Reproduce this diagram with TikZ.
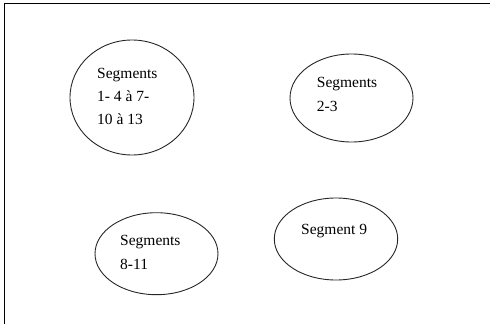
\documentclass[tikz,border=0pt]{standalone}
\usepackage{fontspec}
\setmainfont{Liberation Serif}
\usetikzlibrary{shapes.geometric}
\begin{document}
\begin{tikzpicture}[x=1pt,y=-1pt,
  seg/.style={draw=black!85,line width=0.9pt,ellipse,inner sep=0pt},
  lbl/.style={anchor=base west,inner sep=0pt,font=\fontsize{15.5}{18}\selectfont},
  frame/.style={draw=black,line width=1.2pt}]
  \useasboundingbox (0,0) rectangle (490,324);
  % open frame: top and left edges
  \coordinate (ftr) at (490,3.5);
  \coordinate (ftl) at (4.3,3.5);
  \coordinate (fbl) at (4.3,324);
  \draw[frame] (ftr) -- (ftl) -- (fbl);
  % groups of segments
  \node[seg,minimum width=124pt,minimum height=115pt] (e1) at (132,97.5) {};
  \node[seg,minimum width=123pt,minimum height=88pt] (e2) at (351.5,98) {};
  \node[seg,minimum width=123pt,minimum height=82pt] (e3) at (156.5,253.7) {};
  \node[seg,minimum width=123.4pt,minimum height=82pt] (e4) at (336,239) {};
  % labels
  \node[lbl] (t1a) at (97,78) {Segments};
  \node[lbl] (t1b) at (97,101.5) {1- 4 à 7-};
  \node[lbl] (t1c) at (97,124.5) {10 à 13};
  \node[lbl] (t2a) at (316.7,87.5) {Segments};
  \node[lbl] (t2b) at (316.7,111.5) {2-3};
  \node[lbl] (t3a) at (120,245) {Segments};
  \node[lbl] (t3b) at (120,269) {8-11};
  \node[lbl] (t4a) at (301,234.5) {Segment 9};
\end{tikzpicture}
\end{document}
